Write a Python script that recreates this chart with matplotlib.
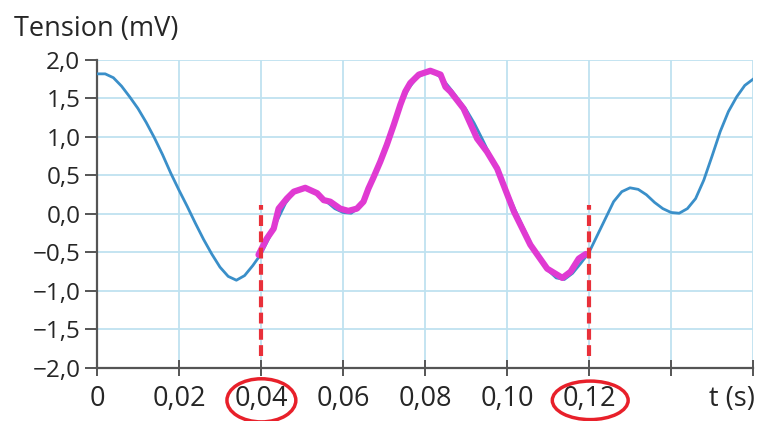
import numpy as np
import matplotlib.pyplot as plt
from matplotlib.patches import Ellipse
import matplotlib.transforms as mtransforms

plt.rcParams["font.family"] = ["Open Sans", "DejaVu Sans"]

t = np.arange(81) * 0.002
tension = [
    1.82, 1.82, 1.77, 1.66, 1.52, 1.37, 1.19, 0.99, 0.77, 0.53,
    0.31, 0.10, -0.12, -0.33, -0.52, -0.69, -0.81, -0.86, -0.80, -0.67,
    -0.52, -0.31, -0.08, 0.14, 0.28, 0.33, 0.32, 0.25, 0.16, 0.07,
    0.02, 0.01, 0.09, 0.29, 0.56, 0.84, 1.13, 1.41, 1.63, 1.77,
    1.83, 1.84, 1.77, 1.64, 1.50, 1.36, 1.18, 0.97, 0.75, 0.52,
    0.29, 0.05, -0.18, -0.40, -0.58, -0.73, -0.83, -0.85, -0.77, -0.64,
    -0.50, -0.28, -0.06, 0.16, 0.29, 0.34, 0.32, 0.25, 0.15, 0.07,
    0.02, 0.01, 0.07, 0.20, 0.44, 0.75, 1.07, 1.33, 1.52, 1.67,
    1.75,
]

# hand-drawn magenta overlay, one period from 0.04 to 0.12 s
hand_t = [0.0394, 0.0414, 0.0431, 0.0443, 0.0463, 0.0480, 0.0508, 0.0537, 0.0553,
          0.0569, 0.0593, 0.0613, 0.0634, 0.0650, 0.0662, 0.0674, 0.0691, 0.0707,
          0.0724, 0.0740, 0.0752, 0.0764, 0.0785, 0.0813, 0.0838, 0.0850, 0.0862,
          0.0894, 0.0927, 0.0951, 0.0976, 0.1017, 0.1057, 0.1098, 0.1135, 0.1155,
          0.1175, 0.1192]
hand_v = [-0.53, -0.32, -0.19, 0.07, 0.20, 0.29, 0.34, 0.27, 0.18,
          0.16, 0.07, 0.04, 0.07, 0.16, 0.33, 0.47, 0.68, 0.90,
          1.16, 1.42, 1.59, 1.70, 1.81, 1.86, 1.81, 1.65, 1.59,
          1.37, 0.98, 0.81, 0.59, 0.03, -0.40, -0.71, -0.83, -0.75,
          -0.58, -0.52]

xticks = [0, 0.02, 0.04, 0.06, 0.08, 0.10, 0.12, 0.14, 0.16]
xlabels = ["0", "0,02", "0,04", "0,06", "0,08", "0,10", "0,12", "", ""]
yticks = [-2.0, -1.5, -1.0, -0.5, 0.0, 0.5, 1.0, 1.5, 2.0]
ylabels = ["\u22122,0", "\u22121,5", "\u22121,0", "\u22120,5", "0,0", "0,5", "1,0", "1,5", "2,0"]
marks = [0.04, 0.12]

fig = plt.figure(figsize=(7.69, 4.21), dpi=100)
ax = fig.add_axes([0.1261, 0.1259, 0.8531, 0.7316])

ax.plot(t, tension, color="#3a8fc9", lw=2, zorder=3)
ax.plot(hand_t, hand_v, color="#e03ad2", lw=4.5, solid_capstyle="round",
        solid_joinstyle="round", zorder=4)
for m in marks:
    ax.plot([m, m], [-1.85, 0.12], color="#e8303a", lw=3, ls=(0, (2.6, 1.3)), zorder=5)

ax.set_xlim(0, 0.16)
ax.set_ylim(-2, 2)
ax.set_xticks(xticks)
ax.set_xticklabels(xlabels, fontsize=19.5, color="#262626")
ax.set_yticks(yticks)
ax.set_yticklabels(ylabels, fontsize=17.5, color="#262626")
ax.tick_params(axis="y", length=9, width=1.4, color="#555555", pad=3)
ax.tick_params(axis="x", direction="inout", length=12, width=1.4, color="#555555", pad=6)
ax.grid(True, color="#bfe2f0", lw=1.3)
ax.set_axisbelow(True)
for s in ["top", "right"]:
    ax.spines[s].set_visible(False)
for s in ["left", "bottom"]:
    ax.spines[s].set_color("#555555")
    ax.spines[s].set_linewidth(1.6)

fig.text(0.018, 0.915, "Tension (mV)", fontsize=19.5, color="#262626", ha="left", va="baseline")
trans = mtransforms.blended_transform_factory(ax.transData, ax.transAxes)
ax.text(0.1605, -0.055, "t (s)", transform=trans,
        fontsize=19.5, color="#262626", ha="right", va="top")

# red circles around the two marked tick labels
for cx, w, h in [(0.0401, 0.0168, 0.14), (0.1203, 0.0185, 0.125)]:
    ax.add_patch(Ellipse((cx, -0.105), w, h, transform=trans, fill=False,
                         edgecolor="#e8202a", lw=2.5, clip_on=False, zorder=6))

fig.savefig("out.png", dpi=100)
